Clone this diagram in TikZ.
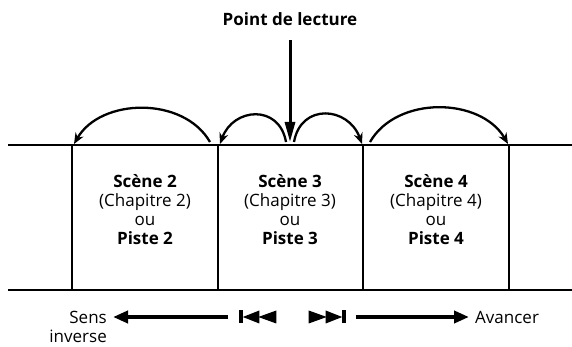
\documentclass[tikz,border=0pt]{standalone}
\usepackage{fontspec}
\setmainfont{Open Sans}
\usepackage{tikz}
\usetikzlibrary{arrows.meta, positioning, calc}
\tikzset{
  trackline/.style={line width=2.8pt},
  sceneline/.style={line width=1.1pt},
  scenetext/.style={align=center, font=\fontsize{17}{19}\selectfont},
  hoparrow/.style={line width=2.3pt, -{Stealth[length=11pt,width=9pt]}},
  headarrow/.style={line width=3pt, -{Triangle[length=20pt,width=10pt]}},
  dirarrow/.style={line width=4pt, -{Triangle[length=15pt,width=12pt]}, shorten >=5pt},
  sidetext/.style={font=\fontsize{17}{19}\selectfont}
}

\begin{document}
\begin{tikzpicture}[x=1pt,y=1pt]
  \path[use as bounding box] (0,0) rectangle (572,347);
  % track
  \coordinate (tl) at (8,202);
  \coordinate (tr) at (572,202);
  \coordinate (bl) at (8,57);
  \coordinate (br) at (572,57);
  \draw[trackline] (tl) -- (tr);
  \draw[trackline] (bl) -- (br);
  \foreach \xx/\nm in {72/b1,218/b2,363/b3,509/b4} {
    \coordinate (\nm) at (\xx,202);
    \draw[sceneline] (\xx,202) -- (\xx,57);
  }
  % scenes
  \node[scenetext] (scene2) at (145,137) {\textbf{Scène 2}\\(Chapitre 2)\\ou\\\textbf{Piste 2}};
  \node[scenetext] (scene3) at (290,137) {\textbf{Scène 3}\\(Chapitre 3)\\ou\\\textbf{Piste 3}};
  \node[scenetext] (scene4) at (436,137) {\textbf{Scène 4}\\(Chapitre 4)\\ou\\\textbf{Piste 4}};
  % read point
  \node[sidetext, font=\fontsize{17}{19}\selectfont\bfseries] (readpoint) at (290,328) {Point de lecture};
  \coordinate (rp) at (290,205);
  \draw[headarrow] (290,307) -- (rp);
  % jumps
  \draw[hoparrow] ($(b2)+(-8,3)$) to[out=120,in=60] ($(b1)+(2,1)$);
  \draw[hoparrow] ($(rp)+(-4,0)$) to[out=100,in=70,looseness=1.5] ($(b2)+(2,1)$);
  \draw[hoparrow] ($(rp)+(4,0)$) to[out=80,in=110,looseness=1.5] ($(b3)+(-1,1)$);
  \draw[hoparrow] ($(b3)+(7,3)$) to[out=60,in=120] ($(b4)+(-1,1)$);
  % skip buttons
  \node[sidetext, anchor=east, inner sep=1pt] (sens) at (108,30) {Sens};
  \node[sidetext, anchor=base east, inner sep=0pt] (inverse) at ($(sens.base east)+(-1,-19)$) {inverse};
  \node[minimum width=37pt, minimum height=13pt, inner sep=0pt] (prev) at (258,30) {};
  \node[minimum width=37pt, minimum height=13pt, inner sep=0pt] (next) at (327,30) {};
  \fill (prev.north west) rectangle ++(3.5,-13);
  \fill ($(prev.west)+(3.5,0)$) -- ++(16.5,6.5) -- ++(0,-13) -- cycle;
  \fill ($(prev.west)+(19,0)$) -- ++(18,6.5) -- ++(0,-13) -- cycle;
  \fill (next.north east) rectangle ++(-3.5,-13);
  \fill ($(next.east)+(-3.5,0)$) -- ++(-16.5,6.5) -- ++(0,-13) -- cycle;
  \fill ($(next.east)+(-19,0)$) -- ++(-18,6.5) -- ++(0,-13) -- cycle;
  \node[sidetext, anchor=west, inner sep=1pt] (avancer) at (474,30) {Avancer};
  \draw[dirarrow] ($(prev.west)+(-11,0)$) -- (sens.east);
  \draw[dirarrow] ($(next.east)+(10,0)$) -- (avancer.west);
\end{tikzpicture}
\end{document}
